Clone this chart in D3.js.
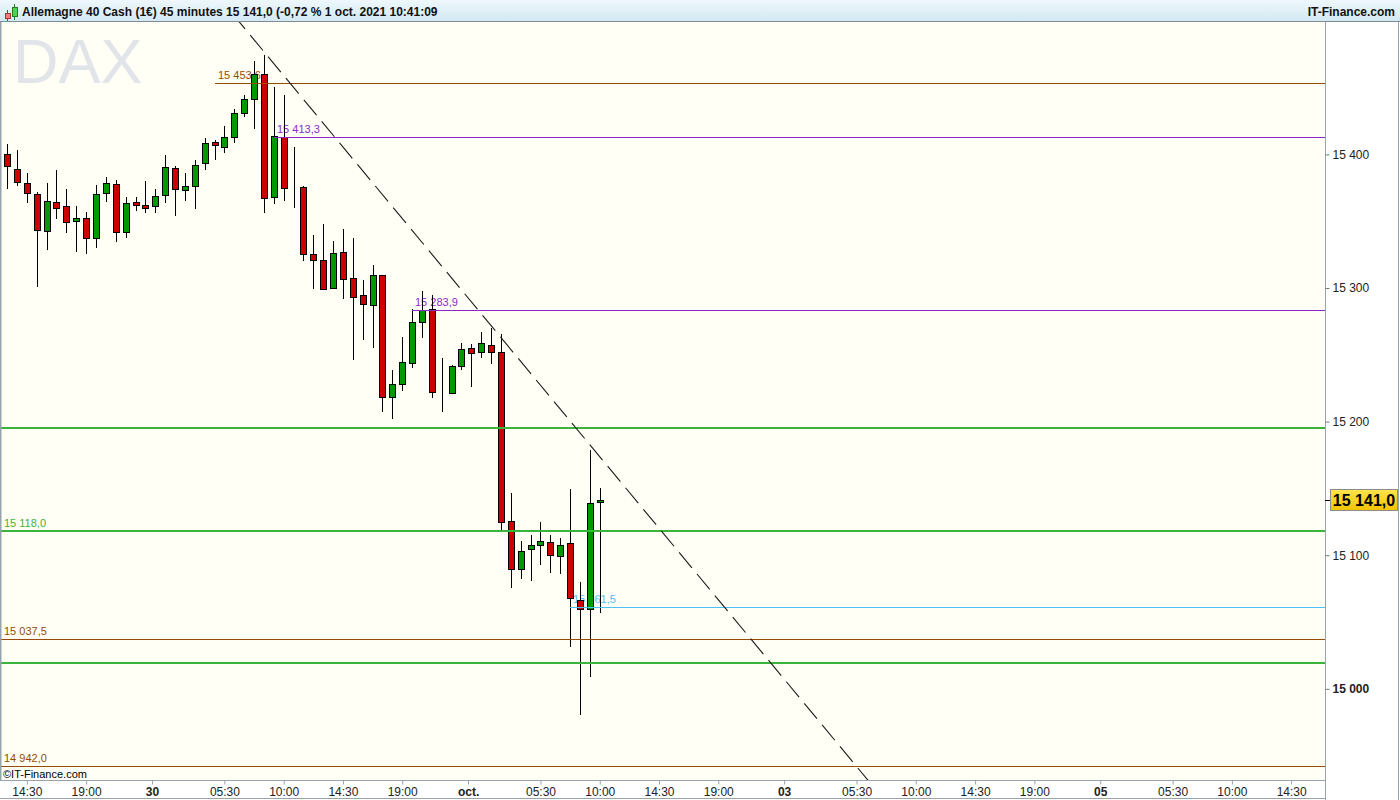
<!DOCTYPE html>
<html><head><meta charset="utf-8">
<script src="https://cdn.jsdelivr.net/npm/d3@7"></script>
<style>
body{margin:0;background:#fff;}
svg{display:block;font-family:"Liberation Sans",Arial,sans-serif;}
</style>
</head><body>
<svg id="c" width="1400" height="800"></svg>
<script>
// ---------------- DATA ----------------
const titleText = "Allemagne 40 Cash (1€) 45 minutes 15 141,0 (-0,72 % 1 oct. 2021 10:41:09";
const siteText = "IT-Finance.com";
const watermarkText = "DAX";
const copyrightText = "©IT-Finance.com";

// 45-minute candles; hours relative to 30 Sep 2021 00:00
const firstCandleHour = -11;
const candleStepHours = 0.75;
const candleOpen  = [15400.1,15388.9,15378.4,15370.4,15342.5,15364.2,15361.2,15349.9,15352.2,15337.2,
                     15370.9,15377.6,15341.7,15364.4,15362.1,15361.2,15369.4,15389.6,15373.1,15376.1,
                     15393.3,15409.1,15405.8,15412.8,15430.8,15441.3,15460.0,15367.9,15413.0,15374.9,
                     15375.4,15325.2,15320.7,15299.8,15326.7,15307.3,15294.5,15287.1,15309.5,15218.6,
                     15227.9,15243.6,15274.3,15284.1,15222.2,15221.2,15241.4,15254.9,15251.9,15257.1,
                     15251.9,15125.4,15089.5,15104.4,15107.4,15109.7,15099.2,15108.9,15066.7,15059.5,
                     15139.6];
const candleHigh  = [15407.8,15403.3,15385.9,15371.5,15378.4,15388.3,15373.9,15361.4,15356.9,15377.1,
                     15383.3,15380.8,15368.4,15368.4,15380.1,15374.1,15399.6,15391.3,15385.9,15395.8,
                     15412.1,15410.8,15421.3,15433.8,15444.5,15469.9,15474.4,15450.7,15444.5,15405.3,
                     15376.0,15339.7,15347.9,15335.2,15344.0,15337.7,15306.0,15317.2,15309.5,15238.6,
                     15263.6,15284.3,15297.8,15294.8,15247.4,15242.0,15258.6,15258.1,15266.9,15269.8,
                     15265.4,15146.3,15110.6,15115.1,15124.9,15114.9,15112.7,15149.3,15079.7,15178.8,
                     15150.1];
const candleLow   = [15374.3,15376.6,15363.4,15300.5,15328.5,15351.7,15341.4,15327.2,15325.5,15330.2,
                     15364.6,15334.7,15337.2,15357.6,15356.4,15356.4,15363.4,15354.1,15365.4,15359.1,
                     15388.3,15395.8,15401.3,15408.8,15427.8,15419.2,15356.4,15362.9,15365.4,15359.7,
                     15320.4,15299.0,15298.5,15299.0,15291.8,15246.1,15261.1,15254.9,15207.4,15202.0,
                     15223.1,15239.9,15262.4,15217.9,15207.4,15220.5,15238.6,15226.1,15247.4,15242.9,
                     15117.6,15075.7,15082.4,15080.9,15092.7,15086.9,15086.2,15031.5,14980.4,15009.1,
                     15057.0];
const candleClose = [15391.1,15379.1,15370.9,15343.2,15364.9,15359.7,15349.2,15352.2,15337.2,15370.1,
                     15378.4,15341.7,15363.4,15362.4,15359.7,15368.6,15390.4,15373.9,15376.4,15391.8,
                     15408.3,15406.8,15413.3,15430.8,15441.3,15460.0,15367.2,15413.6,15374.6,15374.9,
                     15325.5,15320.7,15299.3,15326.0,15306.5,15293.5,15287.8,15309.5,15218.6,15227.9,
                     15244.4,15274.3,15283.5,15221.9,15222.2,15241.4,15254.1,15251.1,15258.6,15251.9,
                     15124.9,15089.5,15102.9,15107.4,15110.4,15099.9,15107.4,15067.7,15060.0,15138.9,
                     15141.0];

// horizontal levels
const levelValues      = [15453.6, 15413.3, 15283.9, 15195.0, 15118.0, 15061.5, 15037.5, 15019.0, 14942.0];
const levelKinds       = ["extreme","pivot","pivot","zone","zone","last","extreme","zone","extreme"];
const levelStartCandle = [21, 27, 41, null, null, 57, null, null, null];
const levelLabelled    = [true, true, true, false, true, true, true, false, true];

// dashed down-trend line through two candle highs
const trendCandles = [26, 50];
const trendValues  = [15476.9, 15262.9];

const lastPrice = 15141.0;

const yTickValues = [15000, 15100, 15200, 15300, 15400];
const xTickHours  = [-9.5, -5, 0, 5.5, 10, 14.5, 19, 24, 29.5, 34, 38.5, 43, 48, 53.5, 58, 62.5, 67, 72, 77.5, 82, 86.5];
const xTickLabels = ["14:30","19:00","30","05:30","10:00","14:30","19:00","oct.","05:30","10:00","14:30","19:00","03","05:30","10:00","14:30","19:00","05","05:30","10:00","14:30"];
const xTickIsDay  = [false,false,true,false,false,false,false,true,false,false,false,false,true,false,false,false,false,true,false,false,false];

// ---------------- LAYOUT / STYLE ----------------
const W = 1400, H = 800;
const plot = {left: 0, right: 1325, top: 22, bottom: 780};
const kindColor = {extreme: "#964b00", pivot: "#8c28c8", zone: "#3cb43c", last: "#4cc0f5"};
const kindWidth = {extreme: 1, pivot: 1, zone: 2, last: 1};

const fr = d3.formatLocale({decimal: ",", thousands: " ", grouping: [3], currency: ["", " €"]});
const fmt1 = fr.format(",.1f");
const fmt0 = fr.format(",.0f");

const svg = d3.select("#c");

const x = d3.scaleLinear().domain([-11.54, 89.07]).range([plot.left, plot.right]);
const y = d3.scaleLinear().domain([14931.75, 15499.1]).range([plot.bottom, plot.top]);
const candleHour = i => firstCandleHour + i * candleStepHours;

// defs
const defs = svg.append("defs");
const tg = defs.append("linearGradient").attr("id","titleGrad").attr("x1",0).attr("y1",0).attr("x2",0).attr("y2",1);
tg.append("stop").attr("offset","0%").attr("stop-color","#eef8fc");
tg.append("stop").attr("offset","100%").attr("stop-color","#d2e8f2");
const pg = defs.append("linearGradient").attr("id","priceGrad").attr("x1",0).attr("y1",0).attr("x2",0).attr("y2",1);
pg.append("stop").attr("offset","0%").attr("stop-color","#ffe44d");
pg.append("stop").attr("offset","100%").attr("stop-color","#f2c200");
defs.append("clipPath").attr("id","plotClip").append("rect")
  .attr("x", plot.left).attr("y", plot.top).attr("width", plot.right - plot.left).attr("height", plot.bottom - plot.top);

// backgrounds
svg.append("rect").attr("width", W).attr("height", H).attr("fill", "#ffffff");
svg.append("rect").attr("x", plot.left).attr("y", plot.top).attr("width", plot.right - plot.left)
  .attr("height", plot.bottom - plot.top).attr("fill", "#fffff6");

// title bar
svg.append("rect").attr("x",0).attr("y",0).attr("width",W).attr("height",plot.top).attr("fill","url(#titleGrad)");
svg.append("line").attr("x1",0).attr("x2",W).attr("y1",plot.top-0.5).attr("y2",plot.top-0.5).attr("stroke","#7f8c96");
// small candle icon
const icon = svg.append("g").attr("transform","translate(3,3)");
icon.append("line").attr("x1",4.5).attr("x2",4.5).attr("y1",7).attr("y2",18).attr("stroke","#b03030");
icon.append("rect").attr("x",2.5).attr("y",10.5).attr("width",5).attr("height",5).attr("fill","#f08080").attr("stroke","#b03030");
icon.append("line").attr("x1",11.5).attr("x2",11.5).attr("y1",1).attr("y2",17).attr("stroke","#208020");
icon.append("rect").attr("x",9.5).attr("y",4.5).attr("width",5).attr("height",9).attr("fill","#50d050").attr("stroke","#208020");
svg.append("text").attr("x",22).attr("y",16).attr("font-size",12).attr("font-weight","bold").attr("fill","#111").text(titleText);
svg.append("text").attr("x",1395).attr("y",16).attr("text-anchor","end").attr("font-size",12).attr("font-weight","bold").attr("fill","#111").text(siteText);

// watermark
svg.append("text").attr("x",13).attr("y",83).attr("font-size",63).attr("fill","#e1e4e9").text(watermarkText);

const plotG = svg.append("g").attr("clip-path","url(#plotClip)");

// level labels (under candles)
const levels = levelValues.map((v,i)=>({v, kind: levelKinds[i], start: levelStartCandle[i], lab: levelLabelled[i]}));
plotG.selectAll("text.lvl").data(levels.filter(d=>d.lab)).join("text").attr("class","lvl")
  .attr("x", d => d.start == null ? 4 : Math.round(x(candleHour(d.start))) + 3)
  .attr("y", d => Math.round(y(d.v)) - 4)
  .attr("font-size", 11).attr("fill", d => kindColor[d.kind])
  .text(d => fmt1(d.v));

// candles
const candles = candleOpen.map((o,i)=>({i, o, h: candleHigh[i], l: candleLow[i], c: candleClose[i]}));
const cg = plotG.append("g").selectAll("g").data(candles).join("g");
cg.append("line")
  .attr("x1", d => Math.round(x(candleHour(d.i))) + 0.5)
  .attr("x2", d => Math.round(x(candleHour(d.i))) + 0.5)
  .attr("y1", d => Math.round(y(d.h)))
  .attr("y2", d => Math.round(y(d.l)))
  .attr("stroke", "#000").attr("stroke-width", 1);
cg.append("rect")
  .attr("x", d => Math.round(x(candleHour(d.i))) - 3 + 0.5)
  .attr("y", d => Math.round(y(Math.max(d.o, d.c))) + 0.5)
  .attr("width", 6)
  .attr("height", d => Math.max(0, Math.round(y(Math.min(d.o, d.c))) - Math.round(y(Math.max(d.o, d.c)))))
  .attr("fill", d => d.c > d.o ? "#009900" : (d.c < d.o ? "#cc0000" : "#000"))
  .attr("stroke", "#000").attr("stroke-width", 1);

// level lines (over candles)
plotG.selectAll("line.lvl").data(levels).join("line").attr("class","lvl")
  .attr("x1", d => d.start == null ? plot.left : Math.round(x(candleHour(d.start))))
  .attr("x2", plot.right)
  .attr("y1", d => kindWidth[d.kind] === 2 ? Math.round(y(d.v)) : Math.round(y(d.v)) + 0.5)
  .attr("y2", d => kindWidth[d.kind] === 2 ? Math.round(y(d.v)) : Math.round(y(d.v)) + 0.5)
  .attr("stroke", d => kindColor[d.kind]).attr("stroke-width", d => kindWidth[d.kind]);

// trend line extended across the plot
const tA = candleHour(trendCandles[0]), tB = candleHour(trendCandles[1]);
const slope = (trendValues[1] - trendValues[0]) / (tB - tA);
const tDom = x.domain();
plotG.append("line")
  .attr("x1", x(tDom[0])).attr("y1", y(trendValues[0] + slope * (tDom[0] - tA)))
  .attr("x2", x(tDom[1])).attr("y2", y(trendValues[0] + slope * (tDom[1] - tA)))
  .attr("stroke", "#1a1a1a").attr("stroke-width", 1.1).attr("stroke-dasharray", "20,8");

// copyright
svg.append("text").attr("x",3).attr("y",778).attr("font-size",11).attr("fill","#000").text(copyrightText);

// plot border
svg.append("line").attr("x1",0.5).attr("x2",0.5).attr("y1",plot.top).attr("y2",plot.bottom).attr("stroke","#97a3ad").attr("stroke-width",2);

// y axis
const yAxis = d3.axisRight(y).tickValues(yTickValues).tickSize(4).tickPadding(3).tickFormat(fmt0);
const yG = svg.append("g").attr("transform", `translate(${plot.right + 0.5},0)`).call(yAxis);
yG.select(".domain").attr("stroke","#97a3ad").attr("d", `M0,${plot.top}V${H}`);
yG.selectAll(".tick line").attr("stroke","#777");
yG.selectAll(".tick text").attr("font-size",12).attr("font-family",'"Liberation Sans",Arial,sans-serif')
  .attr("fill","#222").attr("font-weight", d => d % 1000 === 0 ? "bold" : "normal");
svg.append("line").attr("x1",1398.5).attr("x2",1398.5).attr("y1",plot.top).attr("y2",H).attr("stroke","#97a3ad");

// x axis
const xAxis = d3.axisBottom(x).tickValues(xTickHours).tickSize(4).tickPadding(3).tickFormat((d,i)=>xTickLabels[i]);
const xG = svg.append("g").attr("transform", `translate(0,${plot.bottom + 0.5})`).call(xAxis);
xG.select(".domain").attr("stroke","#97a3ad").attr("d", `M0,0H${plot.right}`);
xG.selectAll(".tick line").attr("stroke","#97a3ad");
xG.selectAll(".tick text").attr("font-size",12).attr("font-family",'"Liberation Sans",Arial,sans-serif')
  .attr("fill","#222").attr("font-weight", (d,i) => xTickIsDay[i] ? "bold" : "normal");
svg.append("line").attr("x1",0).attr("x2",plot.right).attr("y1",H-1.5).attr("y2",H-1.5).attr("stroke","#97a3ad");

// last price tag
const py = Math.round(y(lastPrice));
svg.append("line").attr("x1",plot.right).attr("x2",plot.right+5).attr("y1",py+0.5).attr("y2",py+0.5).attr("stroke","#000");
svg.append("rect").attr("x",1330.5).attr("y",py-10.5).attr("width",67).attr("height",21)
  .attr("fill","url(#priceGrad)").attr("stroke","#8c8c8c");
svg.append("text").attr("x",1364).attr("y",py+6).attr("text-anchor","middle").attr("font-size",16)
  .attr("font-weight","bold").attr("fill","#000").text(fmt1(lastPrice));
</script>
</body></html>
